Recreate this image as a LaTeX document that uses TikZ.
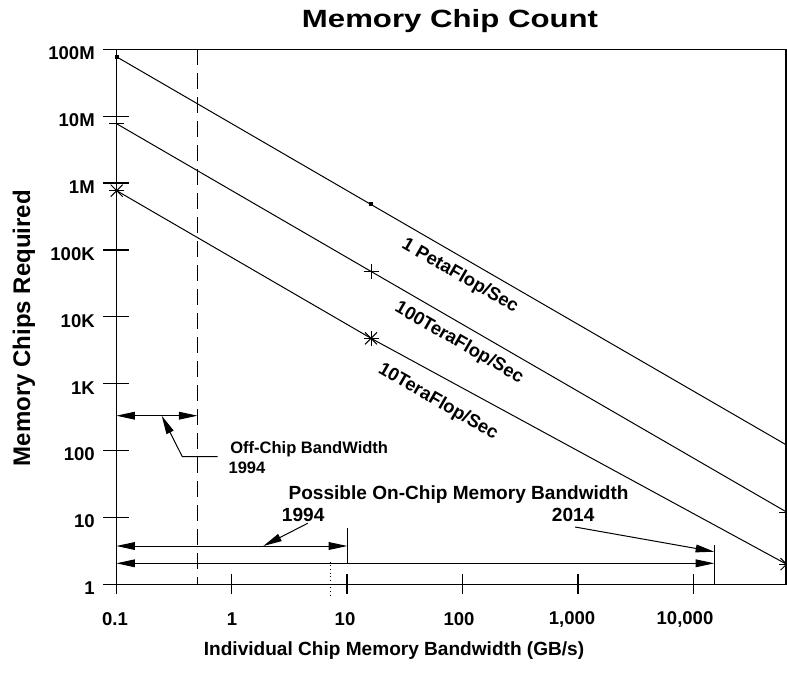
\documentclass[tikz,border=0pt]{standalone}
\usepackage{fontspec}
\setmainfont{Liberation Sans}
\usetikzlibrary{arrows.meta}

\begin{document}
\begin{tikzpicture}[x=0.75pt,y=-0.75pt,
  frame/.style={line width=1pt},
  thin line/.style={line width=0.75pt},
  ticklab/.style={font=\fontsize{13.9pt}{16pt}\selectfont\bfseries, inner sep=0pt},
  notelab/.style={font=\fontsize{12.4pt}{15pt}\selectfont\bfseries, inner sep=0pt, anchor=base west},
  onlab/.style={font=\fontsize{14.3pt}{17pt}\selectfont\bfseries, inner sep=0pt, anchor=base west},
  curvelab/.style={font=\fontsize{13.8pt}{16pt}\selectfont\bfseries, inner sep=0pt},
  tip/.style={-{Triangle[length=14pt,width=5.8pt]}},
  twotip/.style={{Triangle[length=14pt,width=5.8pt]}-{Triangle[length=14pt,width=5.8pt]}}
]
\useasboundingbox (0,0) rectangle (787,673);

% title
\node[font=\fontsize{18.7pt}{22pt}\selectfont\bfseries, inner sep=0pt] (title) at (450,21) {\scalebox{1.25}[1]{Memory Chip Count}};

% plot frame
\coordinate (tl) at (103,49.3);
\coordinate (tr) at (786,49.3);
\coordinate (br) at (786,584.3);
\coordinate (bl) at (103,584.3);
\coordinate (ytop) at (116.3,49.3);
\coordinate (ybot) at (116.3,594);
\draw[frame] (tl) -- (tr) -- (br) -- (bl);
\draw[frame] (ytop) -- (ybot);

% y ticks and labels
\foreach \k/\lab in {0/1,1/10,2/100,3/1K,4/10K,5/100K,6/1M,7/10M,8/100M}{
  \pgfmathsetmacro{\yy}{584.3-66.875*\k}
  \draw[frame] (103,\yy) -- (129,\yy);
  \node[ticklab, anchor=east] (ly\k) at (95,\yy+4) {\lab};
}

% x ticks and labels
\foreach \j/\lab/\cx in {0/0.1/115,1/1/232,2/10/345,3/100/459,4/{1,000}/572,5/{10,000}/685}{
  \pgfmathsetmacro{\xx}{116.3+115.4*\j}
  \draw[frame] (\xx,574) -- (\xx,594);
  \node[ticklab] (lx\j) at (\cx,619.5) {\lab};
}

% axis titles
\node[font=\fontsize{14.3pt}{17pt}\selectfont\bfseries, inner sep=0pt] (xtitle) at (394,651) {Individual Chip Memory Bandwidth (GB/s)};
\node[font=\fontsize{18pt}{21pt}\selectfont\bfseries, inner sep=0pt, rotate=90] (ytitle) at (24,328) {Memory Chips Required};

% off-chip limit
\coordinate (dtop) at (197.5,49.3);
\coordinate (dbot) at (197.5,584.3);
\draw[thin line, dash pattern=on 12pt off 6pt] (dtop) -- (dbot);

% data curves
\coordinate (pa1) at (116.7,56.9);
\coordinate (pa2) at (371,204.5);
\coordinate (pa3) at (786.5,445);
\coordinate (pb1) at (116.7,123.8);
\coordinate (pb2) at (371,271.4);
\coordinate (pb3) at (786.5,512);
\coordinate (pc1) at (116.7,190.7);
\coordinate (pc2) at (371,338.3);
\coordinate (pc3) at (786.5,564.2);
\draw[thin line] (pa1) -- (pa2) -- (pa3);
\draw[thin line] (pb1) -- (pb2) -- (pb3);
\draw[thin line] (pc1) -- (pc2) -- (pc3);

% markers, cut at the right border
\begin{scope}
  \clip (0,0) rectangle (786,673);
  \foreach \p in {pa1,pa2,pa3}{
    \fill (\p) ++(-2,-2) rectangle ++(4,4);
  }
  \foreach \p in {pb1,pb2,pb3}{
    \draw[thin line] (\p) ++(-7.5,0) -- ++(15,0);
    \draw[thin line] (\p) ++(0,-7.5) -- ++(0,15);
  }
  \foreach \p in {pc1,pc2,pc3}{
    \draw[thin line] (\p) ++(-7.5,0) -- ++(15,0);
    \draw[thin line] (\p) ++(0,-7.5) -- ++(0,15);
    \draw[thin line] (\p) ++(-6,-6) -- ++(12,12);
    \draw[thin line] (\p) ++(-6,6) -- ++(12,-12);
  }
\end{scope}

% curve labels
\node[curvelab, rotate=-30] (lpeta) at (460,276) {1 PetaFlop/Sec};
\node[curvelab, rotate=-30] (lhund) at (459,343) {100TeraFlop/Sec};
\node[curvelab, rotate=-30] (lten) at (438,402) {10TeraFlop/Sec};

% off-chip bandwidth annotation
\coordinate (oa) at (116.3,415.7);
\coordinate (ob) at (197.5,415.7);
\draw[thin line, twotip] (oa) -- (ob);
\node[notelab] (offtxt) at (230,453) {Off-Chip BandWidth};
\node[notelab] (offyr) at (228.3,473) {1994};
\coordinate (ol1) at (217.5,456.7);
\coordinate (ol2) at (182.3,456.7);
\coordinate (ol3) at (161.7,415.7);
\draw[thin line, tip] (ol1) -- (ol2) -- (ol3);

% on-chip bandwidth annotation
\node[onlab] (ontxt) at (288.3,499.3) {Possible On-Chip Memory Bandwidth};
\node[onlab] (onyr1) at (281.7,521.7) {1994};
\node[onlab] (onyr2) at (551.7,521.7) {2014};

\coordinate (a94l) at (116.3,546);
\coordinate (a94r) at (347.3,546);
\draw[thin line, twotip] (a94l) -- (a94r);
\coordinate (b94t) at (347.3,528.3);
\coordinate (b94b) at (347.3,563.3);
\draw[thin line] (b94t) -- (b94b);

\coordinate (a14l) at (116.3,563.3);
\coordinate (a14r) at (714.3,563.3);
\draw[thin line, twotip] (a14l) -- (a14r);
\coordinate (b14t) at (714.3,545);
\coordinate (b14b) at (714.3,584.3);
\draw[thin line] (b14t) -- (b14b);

\coordinate (l94s) at (307.7,523.3);
\coordinate (l94e) at (263.3,546);
\draw[thin line, tip] (l94s) -- (l94e);
\coordinate (l14s) at (575,527);
\coordinate (l14e) at (714.3,551.7);
\draw[thin line, tip] (l14s) -- (l14e);

\coordinate (dott) at (330.7,561.7);
\coordinate (dotb) at (330.7,595);
\draw[thin line, dotted] (dott) -- (dotb);

\end{tikzpicture}
\end{document}
